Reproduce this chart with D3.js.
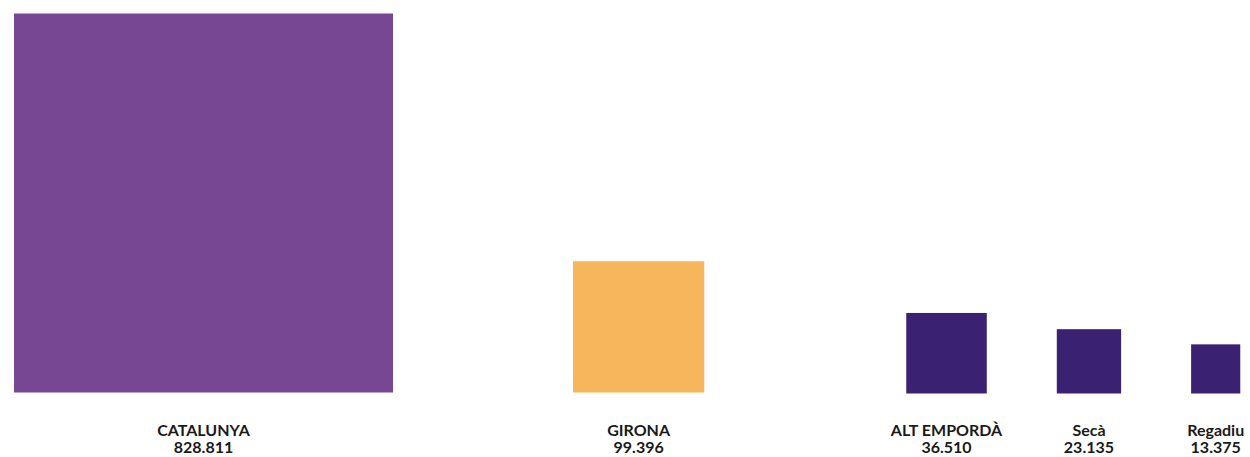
<!DOCTYPE html>
<html>
<head>
<meta charset="utf-8">
<script src="https://cdn.jsdelivr.net/npm/d3@7"></script>
<style>
  html, body { margin: 0; padding: 0; background: #fff; }
  svg text { font-family: Lato, "Liberation Sans", sans-serif; font-weight: bold; fill: #1a1a1a; }
</style>
</head>
<body>
<svg id="chart" width="1250" height="457"></svg>
<script>
const categories = ["CATALUNYA", "GIRONA", "ALT EMPORDÀ", "Secà", "Regadiu"];
const values = [828811, 99396, 36510, 23135, 13375];
const valueLabels = ["828.811", "99.396", "36.510", "23.135", "13.375"];
const colors = ["#784794", "#F7B55C", "#3B2171", "#3B2171", "#3B2171"];

const svg = d3.select("#chart");
const baseline = 392.5;
const gaps = [0, 180, 202, 70, 70];
const startX = 14;

const side = d3.scaleSqrt().domain([0, d3.max(values)]).range([0, 379]);

let x = startX;
const items = values.map((v, i) => {
  x += gaps[i];
  const s = side(v) + (i >= 2 ? 1 : 0);
  const item = { name: categories[i], value: v, label: valueLabels[i], color: colors[i], x: x, s: s };
  x += s;
  return item;
});

const g = svg.selectAll("g.item").data(items).join("g").attr("class", "item");

g.append("rect")
  .attr("x", d => d.x)
  .attr("y", d => (d.s < 100 ? 393.5 : baseline) - d.s)
  .attr("width", d => d.s)
  .attr("height", d => d.s)
  .attr("fill", d => d.color);

g.append("text")
  .attr("x", d => d.x + d.s / 2)
  .attr("y", 436)
  .attr("text-anchor", "middle")
  .attr("font-size", 16)
  .text(d => d.name);

g.append("text")
  .attr("x", d => d.x + d.s / 2)
  .attr("y", 453)
  .attr("text-anchor", "middle")
  .attr("font-size", 16)
  .text(d => d.label);
</script>
</body>
</html>
